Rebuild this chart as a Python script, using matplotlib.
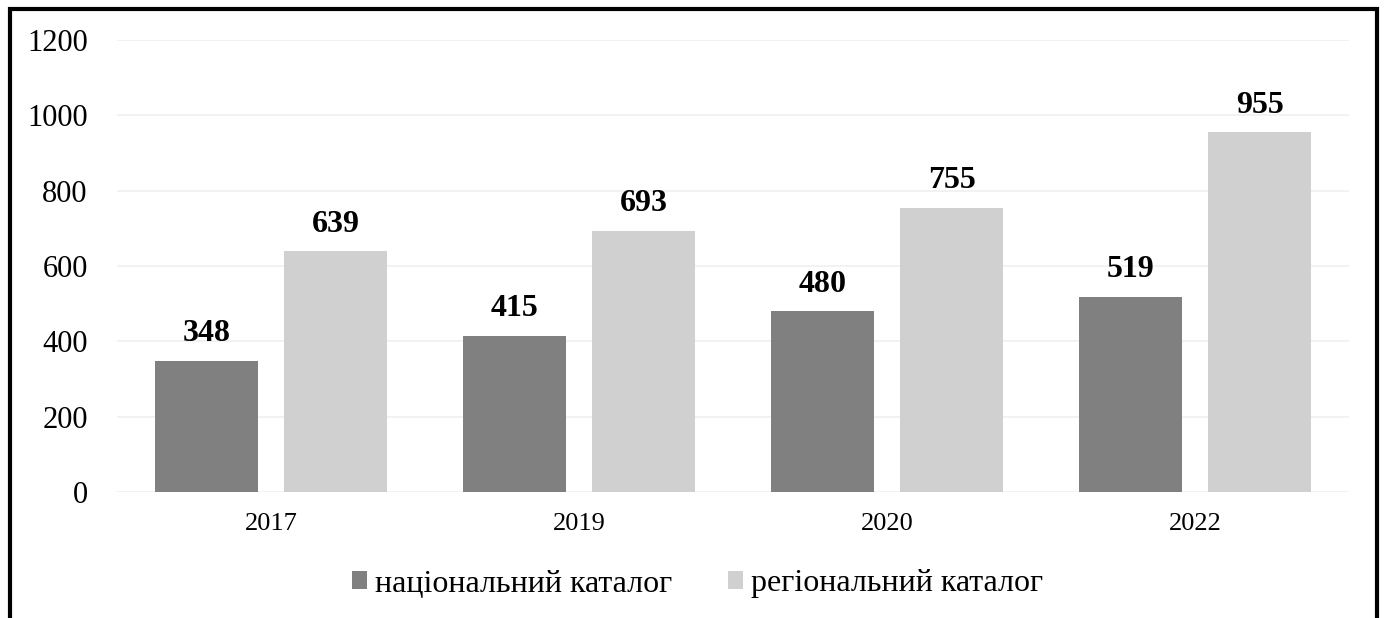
#!/usr/bin/env python3

import numpy as np
import matplotlib.pyplot as plt
from matplotlib.patches import Rectangle

# Data
years = ['2017', '2019', '2020', '2022']
national = [348, 415, 480, 519]
regional = [639, 693, 755, 955]
series_names = ['національний каталог', 'регіональний каталог']
yticks = [0, 200, 400, 600, 800, 1000, 1200]

plt.rcParams['font.family'] = ['Liberation Serif', 'DejaVu Serif']

fig = plt.figure(figsize=(13.86, 6.18), dpi=100)
ax = fig.add_axes([117 / 1386, 1 - 492 / 618, 1232 / 1386, 452 / 618])

x = np.arange(len(years))
w = 0.335
off = 0.21
b1 = ax.bar(x - off, national, w, color='#808080', label=series_names[0], zorder=2)
b2 = ax.bar(x + off, regional, w, color='#d0d0d0', label=series_names[1], zorder=2)

# value labels above each bar
for bars in (b1, b2):
    for rect in bars:
        h = rect.get_height()
        ax.annotate(f'{int(h)}', (rect.get_x() + rect.get_width() / 2, h),
                    xytext=(0, 9), textcoords='offset points',
                    ha='center', va='bottom', fontsize=23, fontweight='bold')

ax.set_xlim(-0.5, len(years) - 0.5)
ax.set_ylim(0, 1200)
ax.set_yticks(yticks)
ax.set_xticks(x)
ax.set_xticklabels(years)
ax.tick_params(axis='y', labelsize=22, length=0, pad=21)
ax.tick_params(axis='x', labelsize=19, length=0, pad=15)
ax.grid(axis='y', color='#f0f0f0', linewidth=1.2, zorder=0)
for s in ax.spines.values():
    s.set_visible(False)

fig.legend(loc='center', bbox_to_anchor=(0.503, 1 - 584 / 618), ncol=2,
           frameon=False, fontsize=23, handlelength=0.47, handleheight=0.47,
           handletextpad=0.25, columnspacing=1.75)

# outer frame, open at the bottom
fig.patches.append(Rectangle((9.5 / 1386, -0.05), 1367 / 1386, 1.05 - 9.5 / 618,
                             transform=fig.transFigure, fill=False,
                             edgecolor='black', linewidth=3))

fig.savefig('out.png', dpi=100)
